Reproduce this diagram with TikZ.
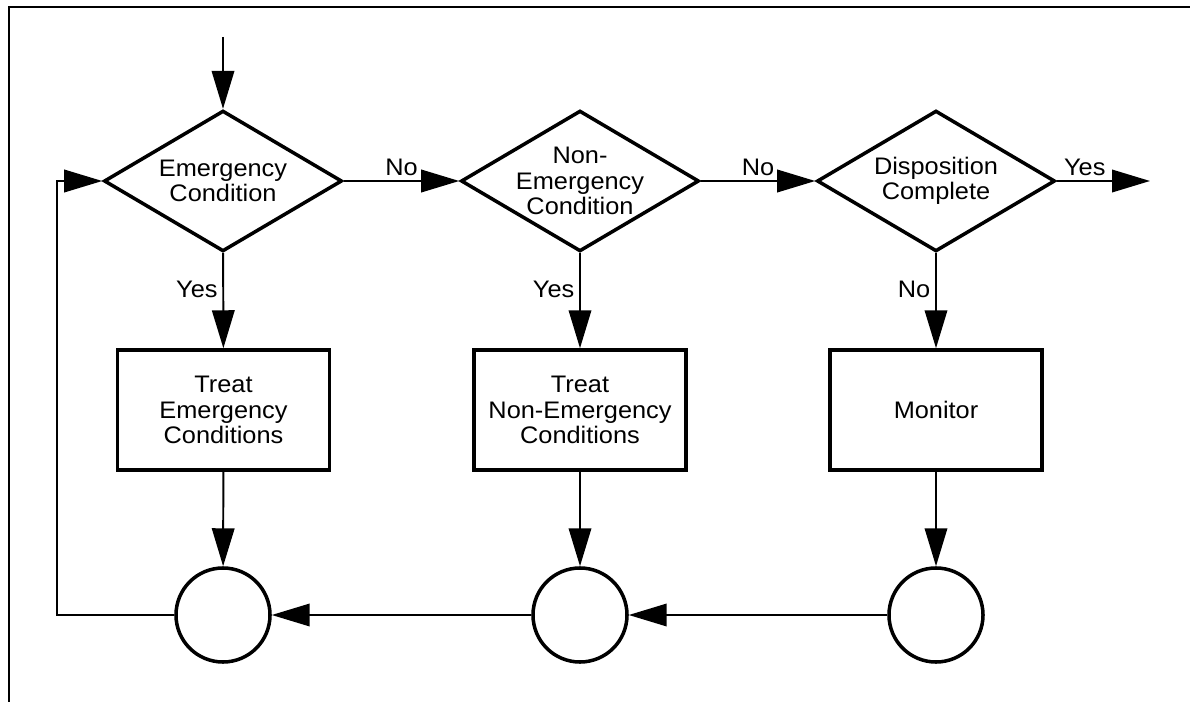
\documentclass[tikz,border=0pt]{standalone}
\usepackage{fontspec}
\setmainfont[FakeStretch=1.06]{Liberation Sans}
\usepackage{tikz}
\usetikzlibrary{shapes.geometric,arrows.meta}

\newcommand{\chartfont}{\fontsize{17pt}{18pt}\selectfont}

\begin{document}
\begin{tikzpicture}[x=0.025cm, y=-0.025cm,
    every node/.style={font=\chartfont},
    decision/.style={diamond, draw, line width=2.5pt, inner sep=0pt,
      minimum width=5.95cm, minimum height=3.52cm},
    action/.style={rectangle, draw, line width=2.5pt, align=center,
      minimum width=5.3cm, minimum height=3.0cm},
    junction/.style={circle, draw, line width=2.5pt, inner sep=0pt,
      minimum size=2.35cm},
    flow/.style={line width=1.4pt, -{Triangle[length=27pt,width=16pt]}}]
  \useasboundingbox (0,0) rectangle (1190,702);
  % frame
  \draw [line width=1.6pt] (1190,7) -- (9,7) -- (9,702);
  % decisions
  \node [decision, label={[align=center]center:Emergency\\Condition}] (emerg) at (223,181) {};
  \node [decision, label={[align=center]center:Non-\\Emergency\\Condition}] (nonemerg) at (580,181) {};
  \node [decision, label={[align=center]center:Disposition\\Complete}] (dispo) at (936,181) {};
  % actions
  \node [action] (treatE) at (223.5,410) {Treat\\Emergency\\Conditions};
  \node [action] (treatN) at (580,410) {Treat\\Non-Emergency\\Conditions};
  \node [action] (monitor) at (936,410) {Monitor};
  % junctions
  \foreach \name/\x in {joinE/223, joinN/580, joinM/936}
    \node [junction] (\name) at (\x,615) {};
  \coordinate (entry) at (223,37);
  \coordinate (exit) at (1150,181);
  \coordinate (loop) at (57,615);
  % flow
  \draw [flow] (entry) -- (emerg);
  \draw [flow] (emerg) -- node [above] {No} (nonemerg);
  \draw [flow] (nonemerg) -- node [above] {No} (dispo);
  \draw [flow] (dispo) -- node [above, pos=0.3] {Yes} (exit);
  \draw [flow] (emerg) -- node [left, pos=0.38] {Yes} (treatE);
  \draw [flow] (nonemerg) -- node [left, pos=0.38] {Yes} (treatN);
  \draw [flow] (dispo) -- node [left, pos=0.38] {No} (monitor);
  \draw [flow] (treatE) -- (joinE);
  \draw [flow] (treatN) -- (joinN);
  \draw [flow] (monitor) -- (joinM);
  \draw [flow] (joinM) -- (joinN);
  \draw [flow] (joinN) -- (joinE);
  \draw [flow] (joinE) -- (loop) |- (emerg);
\end{tikzpicture}
\end{document}
